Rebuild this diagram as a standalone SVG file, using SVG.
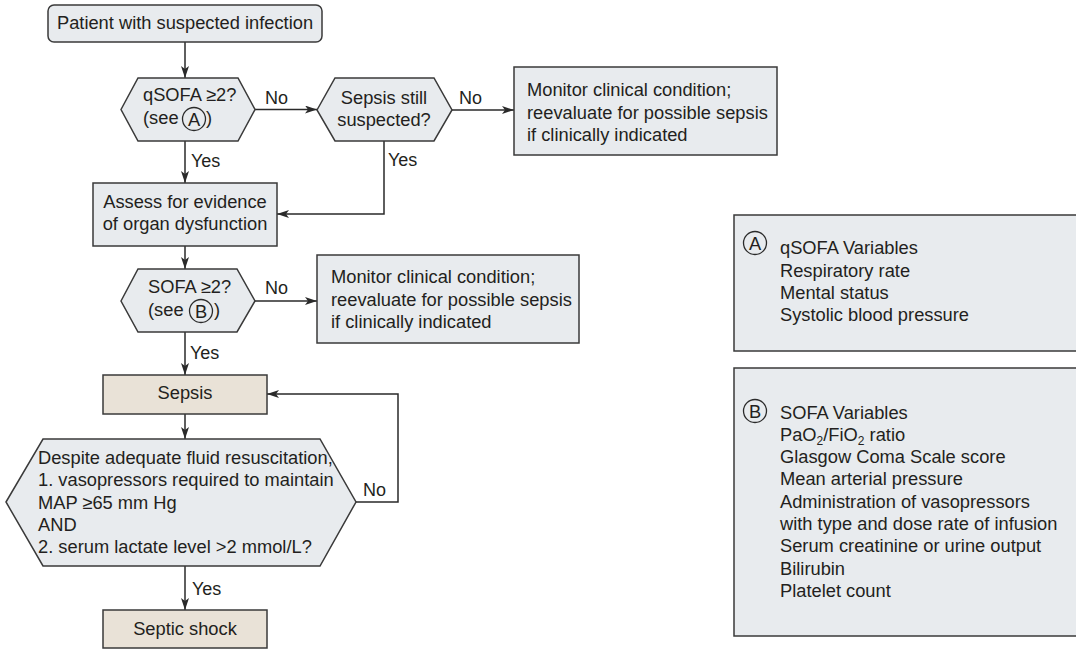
<svg xmlns="http://www.w3.org/2000/svg" width="1076" height="649" viewBox="0 0 1076 649">
<defs>
<style>
.n{fill:#e8ebee;stroke:#3a3a3a;stroke-width:1.5}
.s{fill:#e9e2d7;stroke:#3a3a3a;stroke-width:1.5}
.c{fill:#ffffff;stroke:#2a2a2a;stroke-width:1.3}
text{font-family:"Liberation Sans",Arial,sans-serif;font-size:18.3px;fill:#231f20}
.m{text-anchor:middle}
.e{fill:none;stroke:#2a2a2a;stroke-width:1.5}
.l{font-size:18px}
</style>
<marker id="ah" viewBox="0 0 12 8" refX="12" refY="4" markerWidth="12" markerHeight="8" markerUnits="userSpaceOnUse" orient="auto">
<path d="M0,0 L12,4 L0,8 L3,4 Z" fill="#2a2a2a"/>
</marker>
</defs>
<rect width="1076" height="649" fill="#ffffff"/>

<g id="connectors">
<path class="e" d="M185,42 V78" marker-end="url(#ah)"/>
<path class="e" d="M255,109.5 H317" marker-end="url(#ah)"/>
<path class="e" d="M452,110 H514" marker-end="url(#ah)"/>
<path class="e" d="M185,141 V183" marker-end="url(#ah)"/>
<path class="e" d="M384,141 V214 H277" marker-end="url(#ah)"/>
<path class="e" d="M185,246 V269" marker-end="url(#ah)"/>
<path class="e" d="M255,301 H317" marker-end="url(#ah)"/>
<path class="e" d="M185,332 V375" marker-end="url(#ah)"/>
<path class="e" d="M185,414 V439" marker-end="url(#ah)"/>
<path class="e" d="M356,502 H398 V394 H267" marker-end="url(#ah)"/>
<path class="e" d="M185,566 V610" marker-end="url(#ah)"/>
<text class="l" x="265" y="104">No</text>
<text class="l" x="459" y="104">No</text>
<text class="l" x="191" y="167">Yes</text>
<text class="l" x="388" y="166">Yes</text>
<text class="l" x="265" y="294">No</text>
<text class="l" x="190" y="359">Yes</text>
<text class="l" x="363" y="496">No</text>
<text class="l" x="192" y="595">Yes</text>
</g>

<g id="start">
<rect class="n" x="48" y="5" width="274" height="37" rx="6"/>
<text class="m" x="185" y="29">Patient with suspected infection</text>
</g>

<g id="qsofa">
<polygon class="n" points="121,109.5 138,78 238,78 255,109.5 238,141 138,141"/>
<text x="143" y="101">qSOFA ≥2?</text>
<text x="143" y="124">(see</text>
<circle class="c" cx="194" cy="119" r="11.5" fill="#e8ebee" style="fill:#e8ebee"/>
<text class="m" x="194" y="125.5">A</text>
<text x="206" y="124">)</text>
</g>

<g id="sepsis-still">
<polygon class="n" points="317,110 335,78 434,78 452,110 434,141 335,141"/>
<text class="m" x="384" y="104">Sepsis still</text>
<text class="m" x="384" y="126">suspected?</text>
</g>

<g id="monitor1">
<rect class="n" x="514" y="67" width="263" height="88"/>
<text x="527" y="96">Monitor clinical condition;</text>
<text x="527" y="118.5">reevaluate for possible sepsis</text>
<text x="527" y="141">if clinically indicated</text>
</g>

<g id="assess">
<rect class="n" x="93" y="183" width="184" height="63"/>
<text class="m" x="185" y="208">Assess for evidence</text>
<text class="m" x="185" y="230">of organ dysfunction</text>
</g>

<g id="sofa">
<polygon class="n" points="121,301 138,269 237,269 255,301 237,332 138,332"/>
<text x="148" y="293">SOFA ≥2?</text>
<text x="148" y="316">(see</text>
<circle class="c" cx="201" cy="311" r="11.5" style="fill:#e8ebee"/>
<text class="m" x="201" y="317.5">B</text>
<text x="214" y="316">)</text>
</g>

<g id="monitor2">
<rect class="n" x="317" y="255" width="262" height="88"/>
<text x="331" y="283">Monitor clinical condition;</text>
<text x="331" y="305.5">reevaluate for possible sepsis</text>
<text x="331" y="328">if clinically indicated</text>
</g>

<g id="sepsis">
<rect class="s" x="103" y="375" width="164" height="39"/>
<text class="m" x="185" y="399">Sepsis</text>
</g>

<g id="shock-criteria">
<polygon class="n" points="6,502 43,439 320,439 356,502 320,566 43,566"/>
<text x="38" y="464">Despite adequate fluid resuscitation,</text>
<text x="38" y="486">1. vasopressors required to maintain</text>
<text x="38" y="508.5">MAP ≥65 mm Hg</text>
<text x="38" y="530.5">AND</text>
<text x="38" y="553">2. serum lactate level &gt;2 mmol/L?</text>
</g>

<g id="septic-shock">
<rect class="s" x="103" y="610" width="164" height="38"/>
<text class="m" x="185" y="635">Septic shock</text>
</g>

<g id="legend-a">
<rect class="n" x="734" y="215" width="360" height="136"/>
<circle class="c" cx="755" cy="243" r="11.5" style="fill:#e8ebee"/>
<text class="m" x="755" y="249.5">A</text>
<text x="780" y="254">qSOFA Variables</text>
<text x="780" y="276.5">Respiratory rate</text>
<text x="780" y="299">Mental status</text>
<text x="780" y="321">Systolic blood pressure</text>
</g>

<g id="legend-b">
<rect class="n" x="734" y="368" width="360" height="268"/>
<circle class="c" cx="755" cy="411" r="11.5" style="fill:#e8ebee"/>
<text class="m" x="755" y="417.5">B</text>
<text x="780" y="418.5">SOFA Variables</text>
<text x="780" y="440.7">PaO<tspan font-size="12" dy="4">2</tspan><tspan dy="-4">/FiO</tspan><tspan font-size="12" dy="4">2</tspan><tspan dy="-4"> ratio</tspan></text>
<text x="780" y="463">Glasgow Coma Scale score</text>
<text x="780" y="485.3">Mean arterial pressure</text>
<text x="780" y="507.6">Administration of vasopressors</text>
<text x="780" y="530">with type and dose rate of infusion</text>
<text x="780" y="552.2">Serum creatinine or urine output</text>
<text x="780" y="574.5">Bilirubin</text>
<text x="780" y="596.8">Platelet count</text>
</g>
</svg>
